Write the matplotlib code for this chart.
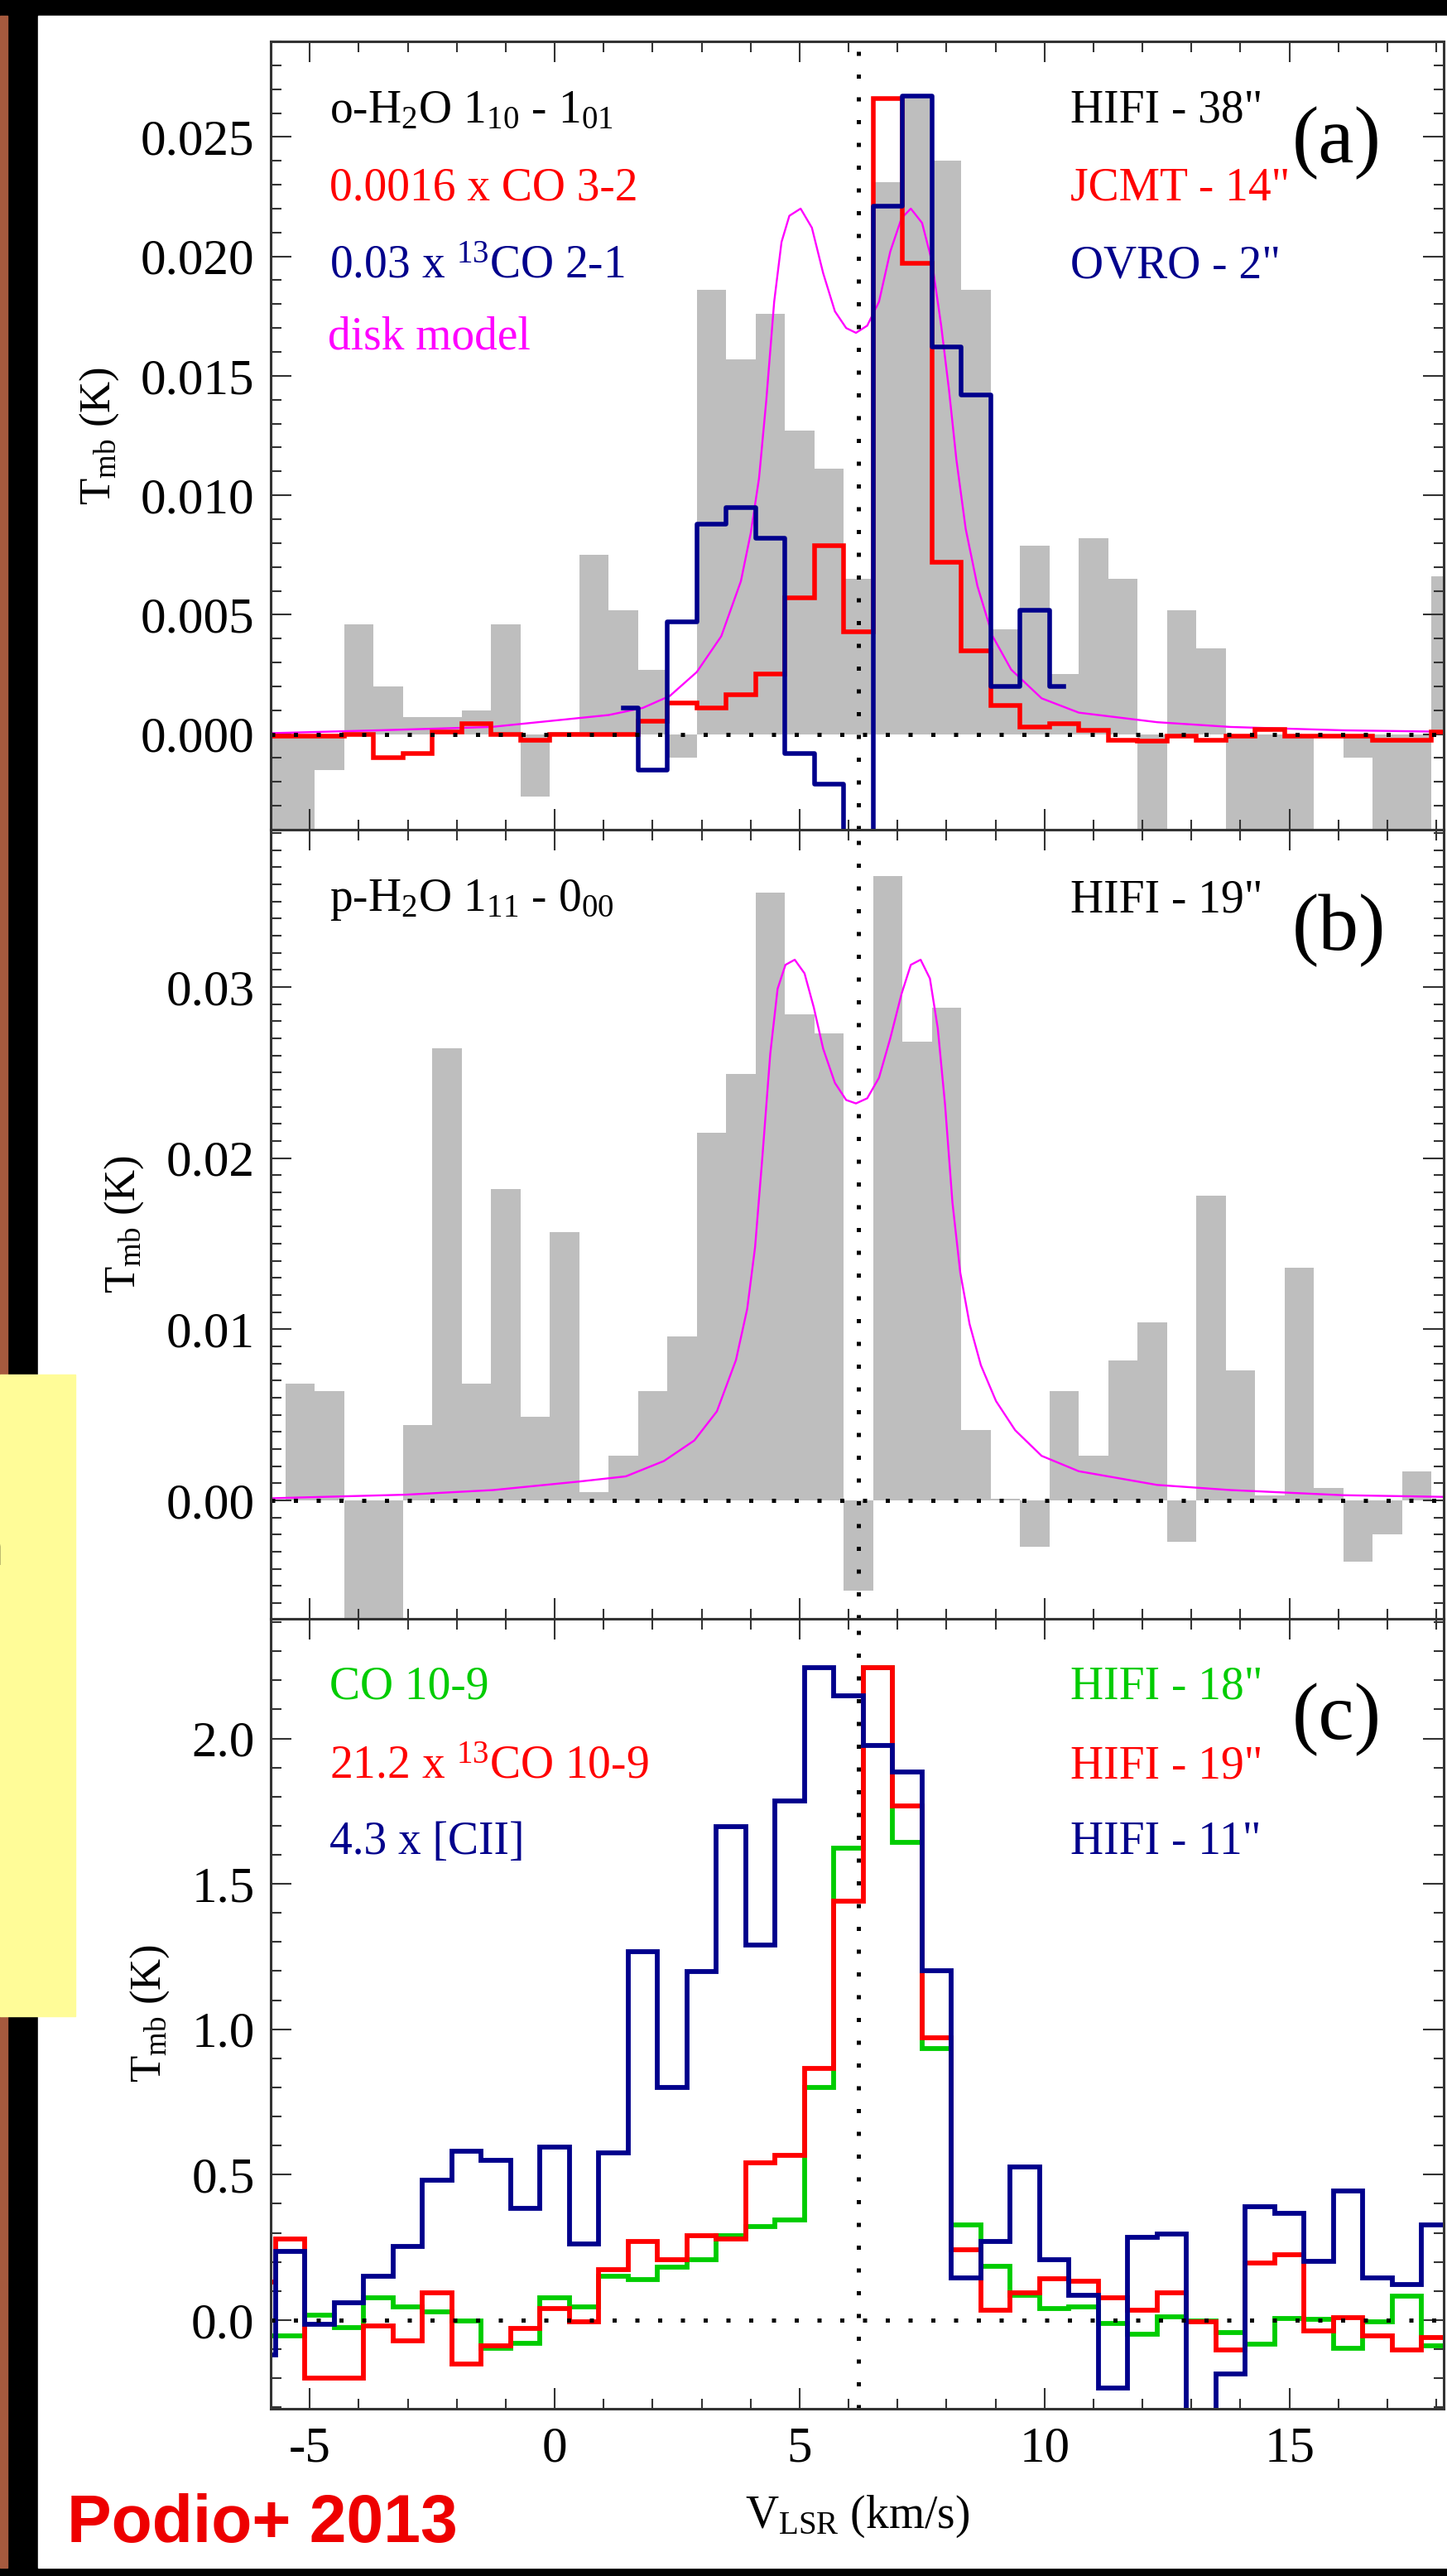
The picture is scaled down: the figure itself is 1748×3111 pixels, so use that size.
import numpy as np
import matplotlib
matplotlib.use('Agg')
from matplotlib import pyplot as plt
from matplotlib.patches import Rectangle
from matplotlib.ticker import MultipleLocator, FuncFormatter

plt.rcParams['font.family'] = ['Liberation Serif', 'DejaVu Serif']
plt.rcParams['mathtext.fontset'] = 'custom'
plt.rcParams['mathtext.rm'] = 'Liberation Serif'
plt.rcParams['mathtext.it'] = 'Liberation Serif:italic'
plt.rcParams['axes.unicode_minus'] = False

# ---- panel (a): o-H2O 1_10-1_01 (HIFI), CO 3-2 (JCMT), 13CO 2-1 (OVRO)
vel_a = [-5.8, -5.2, -4.6, -4.0, -3.4, -2.8, -2.2, -1.6, -1.0, -0.4,
         0.2, 0.8, 1.4, 2.0, 2.6, 3.2, 3.8, 4.4, 5.0, 5.6,
         6.2, 6.8, 7.4, 8.0, 8.6, 9.2, 9.8, 10.4, 11.0, 11.6,
         12.2, 12.8, 13.4, 14.0, 14.6, 15.2, 15.8, 16.4, 17.0, 17.6,
         18.2]
oh2o = [-0.006, -0.006, -0.0015, 0.0046, 0.0020, 0.0007, 0.0007, 0.0010, 0.0046, -0.0026,
        0.0001, 0.0075, 0.0052, 0.0027, -0.0010, 0.0186, 0.0157, 0.0176, 0.0127, 0.0111,
        0.0065, 0.0231, 0.0267, 0.0240, 0.0186, 0.0044, 0.0079, 0.0025, 0.0082, 0.0065,
        -0.006, 0.0052, 0.0036, -0.006, -0.006, -0.006, 0.0000, -0.0010, -0.006, -0.006,
        0.0066]
co32 = [-0.0001, -0.0001, -0.0001, 0.0000, -0.0010, -0.0008, 0.0001, 0.00045, 0.0000, -0.00025,
        0.0000, 0.0000, 0.0000, 0.00055, 0.0013, 0.0011, 0.00165, 0.0025, 0.0057, 0.0079,
        0.0043, 0.0266, 0.0197, 0.0072, 0.0035, 0.0012, 0.0003, 0.00045, 0.00016, -0.00025,
        -0.0003, -0.0001, -0.00027, -0.0001, 0.0002, -0.0001, -0.0001, -0.0001, -0.00025, -0.00025,
        0.0001]
vel_ovro = [1.4, 2.0, 2.6, 3.2, 3.8, 4.4, 5.0, 5.6, 6.2, 6.8, 7.4, 8.0, 8.6, 9.2, 9.8, 10.4]
co13_21 = [0.0011, -0.0015, 0.0047, 0.0088, 0.0095, 0.0082, -0.0008, -0.0021, -0.0060, 0.0221,
           0.0267, 0.0162, 0.0142, 0.0020, 0.0052, 0.0020]
vel_mod_a = [-5.8, -3.6, -1.3, 1.1, 1.8, 2.35, 2.9, 3.4, 3.8, 4.0, 4.17, 4.32, 4.48, 4.63, 4.79,
             5.02, 5.25, 5.48, 5.72, 5.95, 6.15, 6.38, 6.62, 6.85, 7.08, 7.27, 7.5, 7.7, 7.89,
             8.05, 8.2, 8.39, 8.63, 8.94, 9.32, 9.94, 10.7, 12.3, 13.8, 16.1, 18.2]
mod_a = [0.00004, 0.00016, 0.0003, 0.0008, 0.0011, 0.0016, 0.0026, 0.0041, 0.0064, 0.0084, 0.0107,
         0.0140, 0.0181, 0.0206, 0.0217, 0.0220, 0.0212, 0.0193, 0.0177, 0.0170, 0.0168, 0.0171,
         0.0181, 0.0202, 0.0216, 0.0220, 0.0214, 0.0198, 0.0171, 0.0144, 0.0115, 0.0086, 0.0062,
         0.0041, 0.0027, 0.0015, 0.0009, 0.0005, 0.0003, 0.00016, 0.0001]

# ---- panel (b): p-H2O 1_11-0_00 (HIFI)
vel_b = [-5.2, -4.6, -4.0, -3.4, -2.8, -2.2, -1.6, -1.0, -0.4, 0.2,
         0.8, 1.4, 2.0, 2.6, 3.2, 3.8, 4.4, 5.0, 5.6, 6.2,
         6.8, 7.4, 8.0, 8.6, 9.2, 9.8, 10.4, 11.0, 11.6, 12.2,
         12.8, 13.4, 14.0, 14.6, 15.2, 15.8, 16.4, 17.0, 17.6]
ph2o = [0.0068, 0.0064, -0.008, -0.008, 0.0044, 0.0264, 0.0068, 0.0182, 0.0049, 0.0157,
        0.0005, 0.0026, 0.0064, 0.0096, 0.0215, 0.0249, 0.0355, 0.0284, 0.0273, -0.0053,
        0.0365, 0.0268, 0.0288, 0.0041, 0.0001, -0.0027, 0.0064, 0.0026, 0.0082, 0.0104,
        -0.0024, 0.0178, 0.0076, 0.0003, 0.0136, 0.0007, -0.0036, -0.0020, 0.0017]
vel_mod_b = [-5.8, -3.05, -1.26, 0.5, 1.45, 2.23, 2.85, 3.31, 3.7, 3.93, 4.09, 4.24, 4.4, 4.55,
             4.71, 4.9, 5.1, 5.29, 5.48, 5.72, 5.95, 6.15, 6.38, 6.62, 6.85, 7.08, 7.27, 7.47,
             7.66, 7.82, 7.97, 8.12, 8.28, 8.47, 8.7, 9.01, 9.4, 9.94, 10.7, 12.3, 13.8, 16.1, 18.2]
mod_b = [0.00012, 0.00033, 0.0006, 0.0011, 0.0014, 0.0023, 0.0035, 0.0052, 0.0082, 0.0112,
         0.0148, 0.0201, 0.0261, 0.0299, 0.0313, 0.0316, 0.0308, 0.0288, 0.0264, 0.0244,
         0.0234, 0.0232, 0.0235, 0.0247, 0.0270, 0.0296, 0.0313, 0.0316, 0.0305, 0.0276,
         0.0231, 0.0174, 0.0133, 0.0103, 0.0079, 0.0058, 0.0041, 0.0026, 0.0017, 0.0009,
         0.0006, 0.0003, 0.0002]

# ---- panel (c): CO 10-9, 21.2 x 13CO 10-9, 4.3 x [CII] (HIFI)
vel_c = [-6.0, -5.4, -4.8, -4.2, -3.6, -3.0, -2.4, -1.8, -1.2, -0.6,
         0.0, 0.6, 1.2, 1.8, 2.4, 3.0, 3.6, 4.2, 4.8, 5.4,
         6.0, 6.6, 7.2, 7.8, 8.4, 9.0, 9.6, 10.2, 10.8, 11.4,
         12.0, 12.6, 13.2, 13.8, 14.4, 15.0, 15.6, 16.2, 16.8, 17.4,
         18.0]
co109 = [-0.054, -0.054, 0.016, -0.025, 0.077, 0.046, 0.028, -0.002, -0.098, -0.081,
         0.077, 0.046, 0.151, 0.138, 0.182, 0.208, 0.291, 0.322, 0.343, 0.799,
         1.622, 2.243, 1.644, 0.935, 0.326, 0.186, 0.086, 0.039, 0.046, -0.011,
         -0.049, 0.011, -0.002, -0.042, -0.084, 0.004, 0.002, -0.098, -0.007, 0.081,
         -0.089]
co13_109 = [0.13, 0.278, -0.200, -0.200, -0.019, -0.072, 0.095, -0.151, -0.089, -0.028,
            0.039, -0.007, 0.173, 0.270, 0.208, 0.291, 0.278, 0.541, 0.567, 0.865,
            1.440, 2.243, 1.767, 0.970, 0.243, 0.033, 0.095, 0.142, 0.133, 0.077,
            0.033, 0.095, -0.007, -0.103, 0.196, 0.226, -0.037, 0.007, -0.054, -0.103,
            -0.060]
cii = [-0.12, 0.235, -0.014, 0.060, 0.152, 0.252, 0.480, 0.581, 0.550, 0.384,
       0.594, 0.261, 0.576, 1.268, 0.799, 1.198, 1.697, 1.289, 1.785, 2.243,
       2.147, 1.977, 1.884, 1.201, 0.144, 0.270, 0.527, 0.208, 0.086, -0.235,
       0.284, 0.296, -0.32, -0.186, 0.389, 0.366, 0.203, 0.445, 0.144, 0.121,
       0.326]
v_sys = 6.2

W, H = 1748, 3111
GRAY = '#bebebe'
RED = '#ff0000'
BLUE = '#00008c'
GREEN = '#00cc00'
MAG = '#ff00ff'
DOT = (0, (1, 4.5))


def edges(v):
    v = np.asarray(v)
    mid = (v[:-1] + v[1:]) / 2
    return np.concatenate([[v[0] - (v[1] - v[0]) / 2], mid, [v[-1] + (v[-1] - v[-2]) / 2]])


def ftext(px, py, s, **kw):
    fig.text(px / W, 1 - py / H, s, va=kw.pop('va', 'baseline'), **kw)


def style(ax, ylim, major, minor, fmt, xlabels=False):
    ax.set_xlim(-5.8, 18.15)
    ax.set_ylim(*ylim)
    ax.xaxis.set_major_locator(MultipleLocator(5))
    ax.xaxis.set_minor_locator(MultipleLocator(1))
    ax.yaxis.set_major_locator(MultipleLocator(major))
    ax.yaxis.set_minor_locator(MultipleLocator(minor))
    ax.yaxis.set_major_formatter(FuncFormatter(lambda v, p: fmt % (0 if abs(v) < 1e-9 else v)))
    ax.tick_params(which='both', direction='in', top=True, right=True, color='#333333', width=1.5)
    ax.tick_params(which='major', length=18, labelsize=44)
    ax.tick_params(which='minor', length=9)
    ax.tick_params(axis='y', pad=14)
    ax.tick_params(axis='x', pad=15, labelbottom=xlabels)
    for s in ax.spines.values():
        s.set_linewidth(2.2)
        s.set_color('#333333')
        s.set_zorder(10)
    ax.axhline(0, color='black', ls=DOT, lw=3.6, zorder=8)
    ax.axvline(v_sys, color='black', ls=DOT, lw=3.6, zorder=8)
    ax.set_facecolor('white')


fig = plt.figure(figsize=(W / 100, H / 100), dpi=100)
fig.patch.set_facecolor('black')
fig.patches.append(Rectangle((46 / W, 1 - 3101 / H), (W - 46) / W, (3101 - 19) / H,
                             transform=fig.transFigure, color='white', zorder=-5))
fig.patches.append(Rectangle((0, 1 - 3101 / H), 9 / W, (3101 - 19) / H,
                             transform=fig.transFigure, color='#a65a3e', zorder=-5))
fig.patches.append(Rectangle((0, 1 - 2435 / H), 91 / W, (2435 - 1660) / H,
                             transform=fig.transFigure, color='#fffc98', zorder=-4))
ftext(4, 1890, 'n', ha='right', fontfamily=['Lato', 'DejaVu Sans'], fontsize=50, color='black')

L, R = 327, 1744
axa = fig.add_axes([L / W, 1 - 1002 / H, (R - L) / W, 952 / H])
axb = fig.add_axes([L / W, 1 - 1954.5 / H, (R - L) / W, 952.5 / H])
axc = fig.add_axes([L / W, 1 - 2909 / H, (R - L) / W, 954.5 / H])

# (a)
axa.stairs(oh2o, edges(vel_a), fill=True, color=GRAY, baseline=0, zorder=1)
axa.plot(vel_mod_a, mod_a, color=MAG, lw=1.7, zorder=3)
axa.stairs(co32, edges(vel_a), baseline=None, color=RED, lw=4.0, zorder=4)
axa.step(vel_ovro, co13_21, where='mid', color=BLUE, lw=4.0, zorder=5)
style(axa, (-0.004, 0.029), 0.005, 0.001, '%.3f')

# (b)
axb.stairs(ph2o, edges(vel_b), fill=True, color=GRAY, baseline=0, zorder=1)
axb.plot(vel_mod_b, mod_b, color=MAG, lw=1.7, zorder=3)
style(axb, (-0.0069, 0.0392), 0.01, 0.001, '%.2f')

# (c)
axc.stairs(co109, edges(vel_c), baseline=None, color=GREEN, lw=4.2, zorder=3)
axc.stairs(co13_109, edges(vel_c), baseline=None, color=RED, lw=4.2, zorder=4)
axc.stairs(cii, edges(vel_c), baseline=None, color=BLUE, lw=4.2, zorder=5)
style(axc, (-0.305, 2.413), 0.5, 0.1, '%.1f', xlabels=True)

# y labels
for cx, cy in [(120, 526), (150, 1478), (181, 2431)]:
    ftext(cx, cy, r'T$_{\rm mb}$ (K)', rotation=90, ha='center', va='center', fontsize=38)
ftext(1036, 3053, r'V$_{\rm LSR}$ (km/s)', ha='center', fontsize=40)

# panel annotations
fs = 40
ftext(398, 148, r'o-H$_2$O 1$_{10}$ - 1$_{01}$', color='black', fontsize=fs)
ftext(398, 241, '0.0016 x CO 3-2', color=RED, fontsize=fs)
ftext(398, 335, r'0.03 x $^{13}$CO 2-1', color=BLUE, fontsize=fs)
ftext(396, 421, 'disk model', color=MAG, fontsize=fs)
ftext(1293, 148, 'HIFI - 38"', color='black', fontsize=fs)
ftext(1293, 241, 'JCMT - 14"', color=RED, fontsize=fs)
ftext(1293, 335, 'OVRO - 2"', color=BLUE, fontsize=fs)
ftext(1561, 196, '(a)', color='black', fontsize=70)

ftext(398, 1100, r'p-H$_2$O 1$_{11}$ - 0$_{00}$', color='black', fontsize=fs)
ftext(1293, 1101, 'HIFI - 19"', color='black', fontsize=fs)
ftext(1561, 1147, '(b)', color='black', fontsize=70)

ftext(398, 2051, 'CO 10-9', color=GREEN, fontsize=fs)
ftext(398, 2147, r'21.2 x $^{13}$CO 10-9', color=RED, fontsize=fs)
ftext(398, 2239, '4.3 x [CII]', color=BLUE, fontsize=fs)
ftext(1293, 2051, 'HIFI - 18"', color=GREEN, fontsize=fs)
ftext(1293, 2147, 'HIFI - 19"', color=RED, fontsize=fs)
ftext(1293, 2239, 'HIFI - 11"', color=BLUE, fontsize=fs)
ftext(1561, 2100, '(c)', color='black', fontsize=70)

ftext(81, 3070, 'Podio+ 2013', color='#ee0000', fontsize=58,
      fontfamily=['Liberation Sans', 'DejaVu Sans'], fontweight='bold')

fig.savefig('out.png', dpi=100, facecolor=fig.get_facecolor())
